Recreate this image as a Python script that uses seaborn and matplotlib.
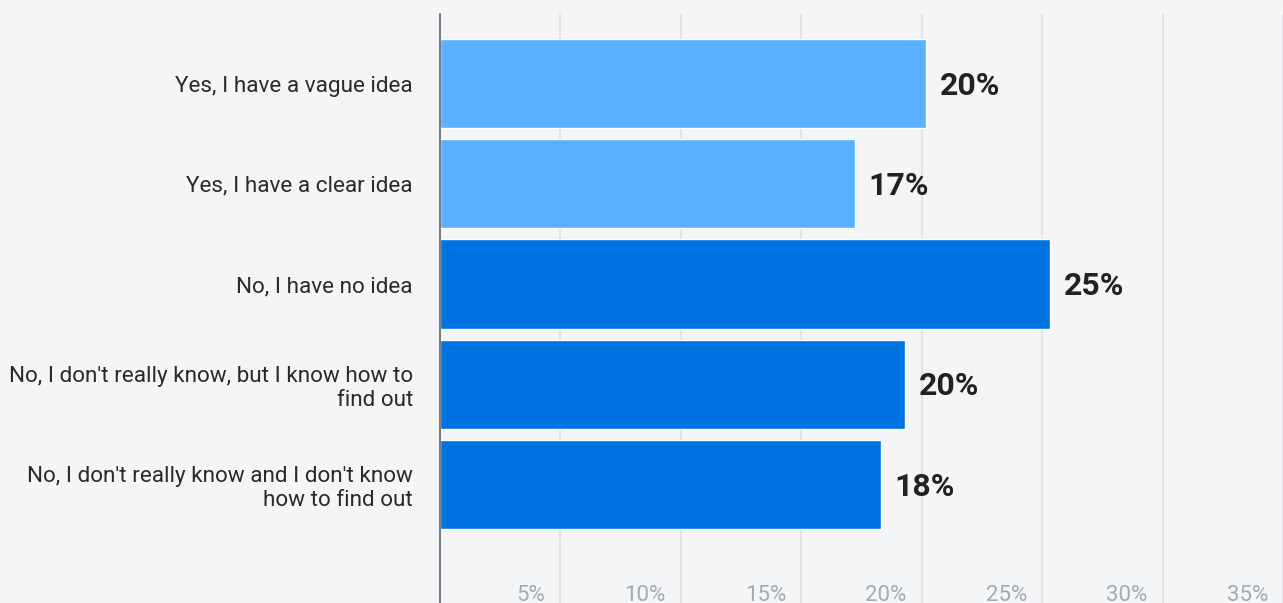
import matplotlib
matplotlib.use("Agg")
import matplotlib.pyplot as plt
import pandas as pd
import seaborn as sns

# Dados
categorias = [
    "Yes, I have a vague idea",
    "Yes, I have a clear idea",
    "No, I have no idea",
    "No, I don't really know, but I know how to\nfind out",
    "No, I don't really know and I don't know\nhow to find out",
]
valores = [20.17, 17.22, 25.31, 19.29, 18.3]
rotulos = ["20%", "17%", "25%", "20%", "18%"]
cores = ["#5AB0FF", "#5AB0FF", "#0073E3", "#0073E3", "#0073E3"]
ticks_x = [5, 10, 15, 20, 25, 30, 35]
rotulos_x = ["5%", "10%", "15%", "20%", "25%", "30%", "35%"]

df = pd.DataFrame({"categoria": categorias, "valor": valores})

fundo = "#F4F5F7"
sns.set_style("white")
plt.rcParams["font.family"] = ["Roboto", "DejaVu Sans"]

fig = plt.figure(figsize=(12.83, 6.03), dpi=100, facecolor=fundo)
ax = fig.add_axes([440 / 1283, 0, 843 / 1283, 589 / 603])
ax.set_facecolor(fundo)

# Linhas de grade
for t in ticks_x:
    ax.axvline(t, color="#DEE0E3", lw=1.2, zorder=0)

sns.barplot(data=df, x="valor", y="categoria", hue="categoria",
            palette=cores, legend=False, width=0.89, saturation=1,
            ax=ax, zorder=2)

ax.set_xlim(0, 35.0)
ax.set_ylim(5.18, -0.693)

for s in ["top", "right", "bottom"]:
    ax.spines[s].set_visible(False)
ax.spines["left"].set_color("#6B6F75")
ax.spines["left"].set_linewidth(1.3)

ax.set_xlabel("")
ax.set_ylabel("")
ax.set_xticks([])
ax.tick_params(axis="y", length=0, pad=19.5, labelsize=16.2, labelcolor="#2A2A2A")

# Rótulos dos valores
for i, (v, r) in enumerate(zip(valores, rotulos)):
    ax.annotate(r, xy=(v, i), xytext=(14, -2), textcoords="offset pixels",
                ha="left", va="center", fontsize=23, fontweight="bold",
                color="#222222")

# Rótulos do eixo x (cortados na base, como no original)
for t, r in zip(ticks_x, rotulos_x):
    ax.annotate(r, xy=(t, 0), xycoords=("data", "axes fraction"),
                xytext=(-15, 18), textcoords="offset pixels",
                ha="right", va="top", fontsize=16, color="#A3AAB2",
                annotation_clip=False)

fig.savefig("out.png", dpi=100, facecolor=fundo)
